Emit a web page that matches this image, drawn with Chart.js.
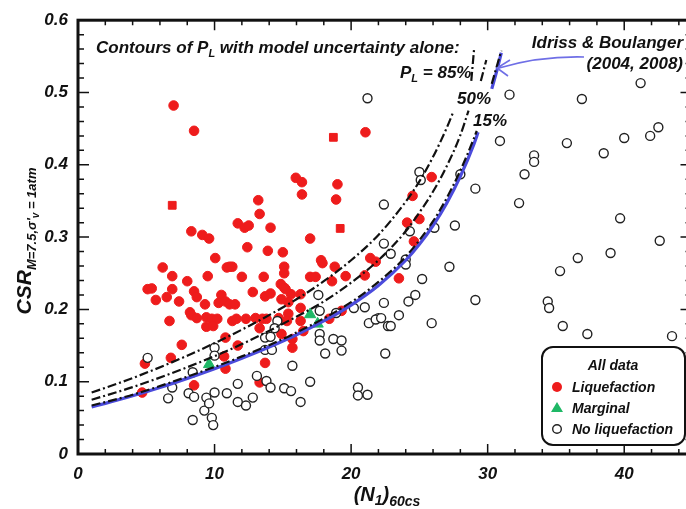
<!DOCTYPE html>
<html>
<head>
<meta charset="utf-8">
<script src="https://cdn.jsdelivr.net/npm/chart.js@4.4.0/dist/chart.umd.min.js"></script>
<style>
  html, body { margin: 0; padding: 0; background: #fff; overflow: hidden; }
  #wrap { width: 686px; height: 509px; overflow: hidden; }
  canvas { display: block; }
</style>
</head>
<body>
<div id="wrap"><canvas id="chart" width="700" height="509"></canvas></div>
<script>
// ===== Data =====
const xTicks = [0, 10, 20, 30, 40];
const yTicks = [0, 0.1, 0.2, 0.3, 0.4, 0.5, 0.6];

// Liquefaction cases (circles)
const liqN = [7.0, 8.5, 8.3, 9.1, 9.6, 10.05, 11.7, 12.2, 12.5, 12.4,
  13.2, 13.3, 13.9, 14.1, 15.0, 15.95, 16.4, 16.4, 17.0, 17.8,
  19.0, 18.9, 21.05, 10.9, 6.2, 6.9, 8.0, 9.5, 5.1, 5.4,
  6.9, 8.5, 8.7, 5.7, 6.5, 7.4, 10.5, 10.3, 10.8, 9.3,
  8.2, 8.3, 8.7, 9.4, 9.8, 10.2, 6.7, 9.4, 9.9, 10.8,
  7.6, 11.1, 11.5, 11.1, 11.3, 12.0, 12.8, 13.6, 13.7, 14.1,
  15.1, 15.1, 14.85, 15.1, 15.6, 16.3, 17.0, 17.4, 17.9, 18.8,
  18.6, 19.6, 11.3, 11.6, 12.3, 13.0, 13.5, 13.8, 13.3, 14.7,
  15.4, 15.3, 14.9, 15.7, 15.7, 16.3, 16.5, 18.4, 19.3, 11.7,
  10.8, 13.7, 13.3, 8.5, 6.8, 4.9, 4.7, 21.0, 21.4, 21.8,
  16.3, 15.4, 14.9, 15.2, 25.9, 24.5, 24.1, 25.0, 24.6, 23.5, 10.7];
const liqCSR = [0.482, 0.447, 0.308, 0.303, 0.298, 0.271, 0.319, 0.313, 0.316, 0.286,
  0.351, 0.332, 0.281, 0.313, 0.279, 0.382, 0.376, 0.359, 0.298, 0.268,
  0.373, 0.352, 0.445, 0.258, 0.258, 0.246, 0.239, 0.246, 0.228, 0.229,
  0.228, 0.225, 0.217, 0.213, 0.217, 0.211, 0.220, 0.209, 0.211, 0.207,
  0.196, 0.192, 0.188, 0.189, 0.187, 0.187, 0.184, 0.176, 0.177, 0.161,
  0.151, 0.207, 0.207, 0.259, 0.259, 0.245, 0.224, 0.245, 0.218, 0.222,
  0.259, 0.250, 0.235, 0.230, 0.221, 0.221, 0.245, 0.245, 0.264, 0.259,
  0.239, 0.246, 0.184, 0.187, 0.187, 0.188, 0.187, 0.187, 0.174, 0.188,
  0.194, 0.184, 0.166, 0.159, 0.147, 0.184, 0.170, 0.187, 0.198, 0.150,
  0.118, 0.126, 0.099, 0.095, 0.133, 0.125, 0.085, 0.247, 0.271, 0.266,
  0.202, 0.210, 0.214, 0.228, 0.383, 0.357, 0.320, 0.325, 0.294, 0.243, 0.135];

// Liquefaction cases (squares)
const liqSqN = [6.9, 18.7, 19.2];
const liqSqCSR = [0.344, 0.438, 0.312];

// Marginal cases
const margN = [9.6, 17.0, 17.55];
const margCSR = [0.124, 0.193, 0.180];

// No liquefaction cases
const noLiqN = [5.1, 6.6, 6.9, 8.1, 8.5, 8.4, 8.4, 9.25, 9.4, 9.6,
  10.0, 9.8, 9.9, 10.9, 10.0, 10.0, 11.7, 11.7, 12.3, 12.8,
  13.1, 13.8, 14.1, 15.1, 15.6, 16.3, 17.0, 15.7, 13.7, 14.2,
  13.7, 14.1, 14.6, 14.4, 17.7, 17.7, 17.7, 18.1, 18.7, 19.3,
  19.3, 18.9, 17.6, 20.5, 20.5, 21.2, 22.5, 24.0, 24.0, 27.2,
  20.2, 22.4, 25.2, 24.2, 24.7, 22.0, 21.3, 22.7, 22.9, 23.5,
  25.9, 29.1, 34.4, 34.5, 35.5, 37.3, 43.5, 35.3, 36.6, 39.0,
  31.6, 30.9, 33.4, 33.4, 32.7, 32.3, 29.1, 28.0, 25.0, 25.1,
  22.4, 27.6, 26.1, 22.4, 22.9, 24.3, 21.2, 36.9, 41.2, 35.8,
  38.5, 40.0, 41.9, 42.5, 39.7, 42.6, 21.0, 21.8, 22.2];
const noLiqCSR = [0.133, 0.077, 0.092, 0.084, 0.079, 0.047, 0.113, 0.060, 0.078, 0.070,
  0.085, 0.050, 0.040, 0.084, 0.147, 0.136, 0.097, 0.072, 0.067, 0.078,
  0.108, 0.101, 0.092, 0.091, 0.087, 0.072, 0.100, 0.122, 0.144, 0.144,
  0.161, 0.162, 0.184, 0.174, 0.198, 0.166, 0.157, 0.139, 0.159, 0.157,
  0.143, 0.195, 0.220, 0.092, 0.081, 0.082, 0.139, 0.269, 0.262, 0.259,
  0.202, 0.209, 0.242, 0.211, 0.220, 0.188, 0.181, 0.177, 0.177, 0.192,
  0.181, 0.213, 0.211, 0.202, 0.177, 0.166, 0.163, 0.253, 0.271, 0.278,
  0.497, 0.433, 0.413, 0.404, 0.387, 0.347, 0.367, 0.387, 0.390, 0.379,
  0.345, 0.316, 0.313, 0.291, 0.277, 0.308, 0.492, 0.491, 0.513, 0.430,
  0.416, 0.437, 0.440, 0.452, 0.326, 0.295, 0.203, 0.186, 0.188];

// Idriss & Boulanger curve (null = gap where the labels sit)
const ibN = [1, 2, 4, 6, 8, 10, 12, 14, 16, 18, 20, 22, 24, 25, 26, 27, 28, 29, 29.3, 29.8, 30.3, 30.6, 31];
const ibCSR = [0.065, 0.070, 0.0805, 0.092, 0.1046, 0.118, 0.1325, 0.148, 0.165, 0.184, 0.206, 0.233, 0.268, 0.290, 0.316, 0.347, 0.384, 0.429, 0.445, null, 0.505, 0.525, 0.555];

// Contours of P_L
const pl15N = [1, 4, 8, 12, 16, 20, 22, 24, 26, 27, 28, 29, 29.2, 29.8, 30.3, 31];
const pl15CSR = [0.067, 0.082, 0.107, 0.135, 0.168, 0.210, 0.238, 0.273, 0.322, 0.354, 0.392, 0.437, 0.447, null, 0.512, 0.558];
const pl50N = [1, 4, 8, 12, 16, 18, 20, 22, 24, 25, 26, 27, 28, 28.6, 29.1, 29.5, 29.9];
const pl50CSR = [0.075, 0.0925, 0.120, 0.152, 0.190, 0.211, 0.237, 0.268, 0.308, 0.334, 0.363, 0.398, 0.441, 0.475, null, 0.516, 0.545];
const pl85N = [1, 4, 8, 12, 16, 18, 20, 22, 24, 25, 26, 27, 27.5, 28.2, 28.8, 29.0];
const pl85CSR = [0.085, 0.105, 0.136, 0.172, 0.214, 0.239, 0.268, 0.303, 0.349, 0.377, 0.411, 0.451, 0.474, null, 0.516, 0.559];

// ===== Helpers =====
const pts = (xs, ys) => xs.map((x, i) => ({ x, y: ys[i] }));
const FONT = '"Liberation Sans", Arial, sans-serif';
const bi = size => `italic bold ${size}px ${FONT}`;

// Draws text made of several parts (subscripts have dy > 0)
function drawRich(ctx, parts, x, y, align) {
  let total = 0;
  parts.forEach(p => { ctx.font = bi(p.size); p.w = ctx.measureText(p.t).width; total += p.w; });
  let cx = align === 'center' ? x - total / 2 : align === 'right' ? x - total : x;
  ctx.textAlign = 'left';
  ctx.textBaseline = 'alphabetic';
  parts.forEach(p => {
    ctx.font = bi(p.size);
    ctx.fillText(p.t, cx, y + (p.dy || 0));
    cx += p.w;
  });
}

// ===== Frame, ticks, texts, legend =====
const decorPlugin = {
  id: 'decor',
  afterDatasetsDraw(chart) {
    const { ctx, chartArea: a, scales: { x, y } } = chart;
    ctx.save();
    ctx.strokeStyle = '#111';

    // inward tick marks
    ctx.lineWidth = 1.5;
    ctx.beginPath();
    for (let k = 0; k <= 22; k++) {
      const px = x.getPixelForValue(k * 2);
      const len = (k * 2) % 10 === 0 ? 10 : 5;
      ctx.moveTo(px, a.bottom); ctx.lineTo(px, a.bottom - len);
      ctx.moveTo(px, a.top); ctx.lineTo(px, a.top + len);
    }
    for (let k = 0; k <= 30; k++) {
      const py = y.getPixelForValue(k * 0.02);
      const len = k % 5 === 0 ? 11 : 6;
      ctx.moveTo(a.left, py); ctx.lineTo(a.left + len, py);
      ctx.moveTo(a.right, py); ctx.lineTo(a.right - len - 1, py);
    }
    ctx.stroke();

    // frame
    ctx.lineWidth = 3;
    ctx.strokeRect(a.left, a.top, a.right - a.left, a.bottom - a.top);

    ctx.fillStyle = '#111';
    // header text
    drawRich(ctx, [
      { t: 'Contours of P', size: 17 },
      { t: 'L', size: 11, dy: 4 },
      { t: ' with model uncertainty alone:', size: 17 }
    ], 96, 53);
    drawRich(ctx, [
      { t: 'P', size: 17 },
      { t: 'L', size: 11, dy: 4 },
      { t: ' = 85%', size: 17 }
    ], 400, 78);
    drawRich(ctx, [{ t: '50%', size: 17 }], 457, 104);
    drawRich(ctx, [{ t: '15%', size: 17 }], 473, 126);
    drawRich(ctx, [{ t: 'Idriss & Boulanger', size: 17 }], 683, 48, 'right');
    drawRich(ctx, [{ t: '(2004, 2008)', size: 17 }], 683, 69, 'right');

    // arrow pointing at the I&B curve
    const tipX = 497, tipY = 68;
    ctx.strokeStyle = '#6f6fe6';
    ctx.lineWidth = 1.6;
    ctx.beginPath();
    ctx.moveTo(584, 57);
    ctx.quadraticCurveTo(540, 56, tipX + 2, tipY);
    ctx.moveTo(tipX + 13, tipY - 8); ctx.lineTo(tipX, tipY); ctx.lineTo(tipX + 11, tipY + 8);
    ctx.stroke();

    // axis titles
    ctx.fillStyle = '#111';
    drawRich(ctx, [
      { t: '(N', size: 20 },
      { t: '1', size: 14, dy: 4 },
      { t: ')', size: 20 },
      { t: '60cs', size: 14, dy: 5 }
    ], 387, 501, 'center');
    ctx.save();
    ctx.translate(31, 241);
    ctx.rotate(-Math.PI / 2);
    drawRich(ctx, [
      { t: 'CSR', size: 21 },
      { t: "M=7.5,σ'", size: 13, dy: 5 },
      { t: 'v', size: 10, dy: 8 },
      { t: ' = 1atm', size: 13, dy: 5 }
    ], 0, 0, 'center');
    ctx.restore();

    // legend box
    const bx = 542, by = 347, bw = 143, bh = 98;
    ctx.fillStyle = '#fff';
    ctx.strokeStyle = '#111';
    ctx.lineWidth = 2;
    ctx.beginPath();
    ctx.roundRect(bx, by, bw, bh, 11);
    ctx.fill();
    ctx.stroke();
    ctx.fillStyle = '#111';
    drawRich(ctx, [{ t: 'All data', size: 14 }], 613, 370, 'center');
    drawRich(ctx, [{ t: 'Liquefaction', size: 14 }], 572, 392);
    drawRich(ctx, [{ t: 'Marginal', size: 14 }], 572, 413);
    drawRich(ctx, [{ t: 'No liquefaction', size: 14 }], 572, 434);
    // legend markers
    ctx.fillStyle = '#ee1c1c';
    ctx.beginPath(); ctx.arc(557, 387, 5, 0, Math.PI * 2); ctx.fill();
    ctx.fillStyle = '#1fb866';
    ctx.beginPath(); ctx.moveTo(557, 402); ctx.lineTo(563, 412); ctx.lineTo(551, 412); ctx.closePath(); ctx.fill();
    ctx.strokeStyle = '#222'; ctx.lineWidth = 1.4;
    ctx.beginPath(); ctx.arc(557, 429, 4.3, 0, Math.PI * 2); ctx.stroke();

    ctx.restore();
  }
};

// ===== Chart =====
const dashDot = [9, 3, 2, 3];
const curve = (data, color, width, dash, order) => ({
  type: 'scatter', data, showLine: true, pointRadius: 0, borderColor: color,
  borderWidth: width, borderDash: dash, cubicInterpolationMode: 'monotone',
  spanGaps: false, order
});

new Chart(document.getElementById('chart'), {
  type: 'scatter',
  data: {
    datasets: [
      curve(pts(pl85N, pl85CSR), '#111', 2.2, dashDot, 0),
      curve(pts(pl50N, pl50CSR), '#111', 2.2, dashDot, 0),
      curve(pts(pl15N, pl15CSR), '#111', 2.2, dashDot, 0),
      curve(pts(ibN, ibCSR), '#4b4bdc', 3.2, [], 1),
      { data: pts(margN, margCSR), pointStyle: 'triangle', pointRadius: 6.5,
        backgroundColor: '#1fb866', borderColor: '#1fb866', borderWidth: 1, order: 2 },
      { data: pts(noLiqN, noLiqCSR), pointStyle: 'circle', pointRadius: 4.5,
        backgroundColor: '#fff', borderColor: '#222', borderWidth: 1.4, order: 3 },
      { data: pts(liqSqN, liqSqCSR), pointStyle: 'rect', pointRadius: 5.5,
        backgroundColor: '#ee1c1c', borderColor: '#ee1c1c', borderWidth: 1, order: 4 },
      { data: pts(liqN, liqCSR), pointStyle: 'circle', pointRadius: 4.8,
        backgroundColor: '#ee1c1c', borderColor: '#ee1c1c', borderWidth: 1, order: 4 }
    ]
  },
  options: {
    responsive: false,
    animation: false,
    devicePixelRatio: 1,
    layout: { padding: { top: 17, right: 4, bottom: 0, left: 0 } },
    plugins: { legend: { display: false }, tooltip: { enabled: false } },
    scales: {
      x: {
        type: 'linear', min: 0, max: 45,
        grid: { display: false, drawTicks: false },
        border: { display: false },
        afterBuildTicks: s => { s.ticks = xTicks.map(v => ({ value: v })); },
        afterFit: s => { s.height = 55; },
        ticks: { padding: 10, color: '#111', font: { family: FONT, size: 17, style: 'italic', weight: 'bold' },
          callback: v => String(v) }
      },
      y: {
        type: 'linear', min: 0, max: 0.6,
        grid: { display: false, drawTicks: false },
        border: { display: false },
        afterBuildTicks: s => { s.ticks = yTicks.map(v => ({ value: v })); },
        afterFit: s => { s.width = 78; },
        ticks: { padding: 10, color: '#111', font: { family: FONT, size: 17, style: 'italic', weight: 'bold' },
          callback: v => v === 0 ? '0' : v.toFixed(1) }
      }
    }
  },
  plugins: [decorPlugin]
});
</script>
</body>
</html>
